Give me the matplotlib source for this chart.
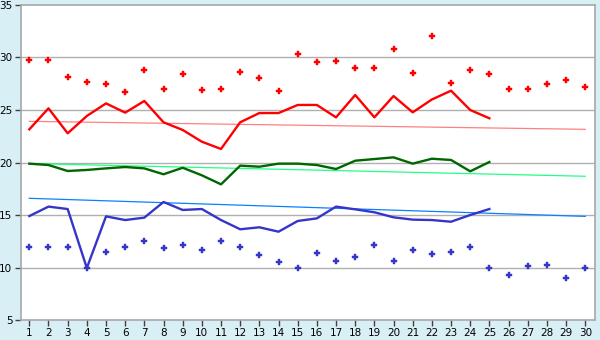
import matplotlib
matplotlib.use("Agg")
import matplotlib.pyplot as plt

days = list(range(1, 31))
line_days = list(range(1, 26))

red_line = [23.16, 25.16, 22.78, 24.43, 25.63, 24.75, 25.86, 23.83, 23.1, 21.98,
            21.29, 23.83, 24.71, 24.71, 25.48, 25.48, 24.3, 26.43, 24.3, 26.33,
            24.78, 26.0, 26.84, 25.0, 24.21]
red_points = [29.73, 29.73, 28.11, 27.63, 27.44, 26.68, 28.78, 26.97, 28.4, 26.87,
              26.97, 28.59, 28.02, 26.78, 30.3, 29.54, 29.63, 28.97, 28.97, 30.78,
              28.49, 32.02, 27.54, 28.78, 28.4, 26.97, 26.97, 27.44, 27.83, 27.16]
green_line = [19.89, 19.76, 19.19, 19.29, 19.44, 19.57, 19.44, 18.88, 19.5, 18.78,
              17.92, 19.7, 19.6, 19.89, 19.89, 19.76, 19.38, 20.17, 20.33, 20.49,
              19.89, 20.36, 20.24, 19.16, 20.05]
blue_line = [14.9, 15.8, 15.57, 9.95, 14.87, 14.52, 14.75, 16.24, 15.48, 15.57,
             14.52, 13.64, 13.83, 13.41, 14.43, 14.68, 15.8, 15.54, 15.26, 14.78,
             14.56, 14.52, 14.36, 15.0, 15.57]
blue_points = [12.0, 12.0, 12.0, 10.0, 11.45, 12.0, 12.5, 11.83, 12.11, 11.64,
               12.5, 12.0, 11.16, 10.5, 10.0, 11.35, 10.59, 10.97, 12.11, 10.59,
               11.64, 11.26, 11.45, 12.0, 10.0, 9.26, 10.11, 10.21, 8.97, 10.0]
trend_x = [1, 30]
red_trend = [23.92, 23.16]
green_trend = [19.9, 18.69]
blue_trend = [16.59, 14.87]
y_ticks = [5, 10, 15, 20, 25, 30, 35]

fig = plt.figure(figsize=(6, 3.4), dpi=100)
fig.patch.set_facecolor("#d9eff6")
ax = fig.add_axes([0.0345, 0.0588, 0.9575, 0.9265])
ax.set_facecolor("white")

for y in y_ticks[1:-1]:
    ax.axhline(y, color="#b0b0b0", lw=1.0, zorder=1)

ax.plot(trend_x, red_trend, color="#ff8080", lw=0.9, zorder=2)
ax.plot(trend_x, green_trend, color="#22ff88", lw=0.9, zorder=2)
ax.plot(trend_x, blue_trend, color="#0a80ff", lw=0.9, zorder=2)

ax.plot(line_days, red_line, color="#ff0000", lw=1.7, zorder=3)
ax.plot(line_days, green_line, color="#006600", lw=1.7, zorder=3)
ax.plot(line_days, blue_line, color="#3535c8", lw=1.7, zorder=3)

ax.plot(days, red_points, ls="none", marker="P", ms=4.2, color="#ff0000",
        mec="#ff0000", mew=0.3, zorder=4)
ax.plot(days, blue_points, ls="none", marker="P", ms=4.2, color="#3535c8",
        mec="#3535c8", mew=0.3, zorder=4)

ax.set_xlim(0.55, 30.52)
ax.set_ylim(5, 35)
ax.set_xticks(days)
ax.set_xticklabels([str(d) for d in days])
ax.set_yticks(y_ticks)
ax.tick_params(axis="both", length=4, width=1, color="#404040", labelsize=7.5,
               pad=2, labelcolor="black")
for s in ax.spines.values():
    s.set_color("#a8a8a8")
    s.set_linewidth(1.2)

fig.savefig("out.png", dpi=100, facecolor=fig.get_facecolor())
